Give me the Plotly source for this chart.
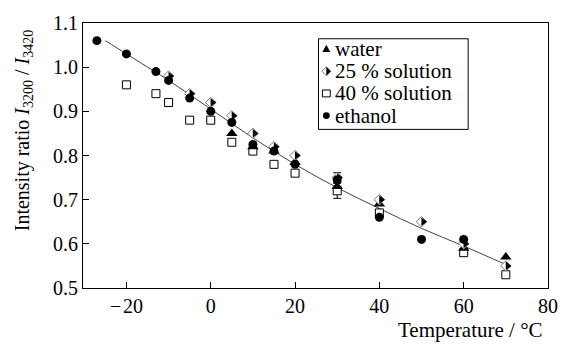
import plotly.graph_objects as go

# ---- data ----
temp_water = [5, 10, 15, 20, 30, 40, 60, 70]
ratio_water = [0.85, 0.82, 0.81, 0.785, 0.73, 0.69, 0.59, 0.57]

temp_25 = [-10, -5, 0, 5, 10, 15, 20, 30, 40, 50, 60, 70]
ratio_25 = [0.98, 0.94, 0.92, 0.89, 0.85, 0.82, 0.80, 0.75, 0.70, 0.65, 0.60, 0.55]
err_25 = [0, 0, 0, 0, 0, 0, 0, 0.011, 0, 0, 0, 0]

temp_40 = [-20, -13, -10, -5, 0, 5, 10, 15, 20, 30, 40, 60, 70]
ratio_40 = [0.96, 0.94, 0.92, 0.88, 0.88, 0.83, 0.81, 0.78, 0.76, 0.72, 0.67, 0.58, 0.53]
err_40 = [0, 0, 0, 0, 0, 0, 0, 0, 0, 0.017, 0, 0, 0]

temp_eth = [-27, -20, -13, -10, -5, 0, 5, 10, 15, 20, 30, 40, 50, 60]
ratio_eth = [1.06, 1.03, 0.99, 0.97, 0.93, 0.90, 0.875, 0.825, 0.81, 0.78, 0.745, 0.66, 0.61, 0.61]

fit_temp = [-25, -20, -10, 0, 10, 20, 30, 40, 50, 60, 70]
fit_ratio = [1.06, 1.03, 0.97, 0.905, 0.84, 0.78, 0.727, 0.68, 0.635, 0.595, 0.553]

x_ticks = [-20, 0, 20, 40, 60, 80]
x_tick_labels = ["\u2212\u200a20", "0", "20", "40", "60", "80"]
y_ticks = [0.5, 0.6, 0.7, 0.8, 0.9, 1.0, 1.1]

legend_names = ["water", "25 % solution", "40 % solution", "ethanol"]

FONT = "Times New Roman, Liberation Serif, serif"
W, H = 570, 349
X_RANGE = [-30.3, 80]
Y_RANGE = [0.5, 1.1]
L, R, T, B = 83, 15, 19, 61
plot_w = W - L - R
plot_h = H - T - B
px_per_unit = plot_w / (X_RANGE[1] - X_RANGE[0])
half_shift = 1.8 / px_per_unit  # shift black half-diamond so its flat edge sits at the centre


def pxx(x):
    return (x - L) / plot_w


def pxy(y):
    return (H - B - y) / plot_h


fig = go.Figure()

fig.add_trace(go.Scatter(
    x=fit_temp, y=fit_ratio, mode="lines", line=dict(color="#444", width=1, shape="spline"),
    hoverinfo="skip"))

fig.add_trace(go.Scatter(
    x=temp_40, y=ratio_40, mode="markers", name=legend_names[2],
    marker=dict(symbol="square", size=8, color="white", line=dict(color="black", width=1)),
    error_y=dict(type="data", array=err_40, color="black", thickness=1, width=4)))

fig.add_trace(go.Scatter(
    x=temp_water, y=ratio_water, mode="markers", name=legend_names[0],
    marker=dict(symbol="triangle-up", size=10, color="black", line=dict(width=0))))

fig.add_trace(go.Scatter(
    x=temp_25, y=ratio_25, mode="markers", name=legend_names[1],
    marker=dict(symbol="diamond", size=8, color="white", line=dict(color="#777", width=1)),
    error_y=dict(type="data", array=err_25, color="black", thickness=1, width=4)))

fig.add_trace(go.Scatter(
    x=[t + half_shift for t in temp_25], y=ratio_25, mode="markers",
    marker=dict(symbol="triangle-right", size=7.5, color="black", line=dict(width=0)),
    hoverinfo="skip"))

fig.add_trace(go.Scatter(
    x=temp_eth, y=ratio_eth, mode="markers", name=legend_names[3],
    marker=dict(symbol="circle", size=9, color="black", line=dict(width=0))))

axis_common = dict(
    showgrid=False, zeroline=False, showline=True, linecolor="black", linewidth=1,
    mirror=True, ticks="inside", ticklen=6, tickcolor="black", tickwidth=1,
    tickfont=dict(family=FONT, size=20, color="black"))

fig.update_xaxes(range=X_RANGE, tickvals=x_ticks, ticktext=x_tick_labels, **axis_common)
fig.update_yaxes(range=Y_RANGE, tickvals=y_ticks, tickformat=".1f", **axis_common)

# ---- hand-made legend box (matches the compact reference legend) ----
box = dict(x0=322, x1=474, y0=35, y1=127)
row_y = [45, 68, 90.5, 113]
mx = 330
text_x = 337
shapes = [dict(type="rect", xref="paper", yref="paper",
               x0=pxx(box["x0"]), x1=pxx(box["x1"]), y0=pxy(box["y1"]), y1=pxy(box["y0"]),
               line=dict(color="black", width=1), fillcolor="white", layer="above")]


def path(points):
    return "M " + " L ".join(f"{pxx(a):.5f},{pxy(b):.5f}" for a, b in points) + " Z"


# water triangle
y0 = row_y[0]
shapes.append(dict(type="path", xref="paper", yref="paper", layer="above",
                   path=path([(mx - 4, y0 + 3.5), (mx + 4, y0 + 3.5), (mx, y0 - 4)]),
                   fillcolor="black", line=dict(width=0)))
# 25 % half diamond
y1 = row_y[1]
shapes.append(dict(type="path", xref="paper", yref="paper", layer="above",
                   path=path([(mx, y1 - 4.5), (mx + 4.5, y1), (mx, y1 + 4.5), (mx - 4.5, y1)]),
                   fillcolor="white", line=dict(color="#777", width=1)))
shapes.append(dict(type="path", xref="paper", yref="paper", layer="above",
                   path=path([(mx, y1 - 4.5), (mx + 4.5, y1), (mx, y1 + 4.5)]),
                   fillcolor="black", line=dict(width=0)))
# 40 % square
y2 = row_y[2]
shapes.append(dict(type="rect", xref="paper", yref="paper", layer="above",
                   x0=pxx(mx - 4), x1=pxx(mx + 4), y0=pxy(y2 + 3.5), y1=pxy(y2 - 3.5),
                   fillcolor="white", line=dict(color="black", width=1)))
# ethanol circle
y3 = row_y[3]
shapes.append(dict(type="circle", xref="paper", yref="paper", layer="above",
                   x0=pxx(mx - 3.5), x1=pxx(mx + 3.5), y0=pxy(y3 + 3.5), y1=pxy(y3 - 3.5),
                   fillcolor="black", line=dict(width=0)))

annotations = [
    dict(text=name, xref="paper", yref="paper", x=pxx(text_x), y=pxy(ry),
         xanchor="left", yanchor="middle", showarrow=False,
         font=dict(family=FONT, size=21, color="black"))
    for name, ry in zip(legend_names, row_y)
]
annotations += [
    dict(text="Temperature / °C", xref="paper", yref="paper",
         x=pxx(552), y=pxy(331), xanchor="right", yanchor="middle", showarrow=False,
         font=dict(family=FONT, size=21, color="black")),
    dict(text="Intensity ratio <i>I</i><sub>3200</sub> / <i>I</i><sub>3420</sub>",
         xref="paper", yref="paper", x=pxx(22), y=pxy(128), xanchor="center", yanchor="middle",
         textangle=-90, showarrow=False,
         font=dict(family=FONT, size=20, color="black")),
]

fig.update_layout(
    width=W, height=H,
    margin=dict(l=L, r=R, t=T, b=B, pad=0),
    paper_bgcolor="white", plot_bgcolor="white",
    font=dict(family=FONT, size=20, color="black"),
    showlegend=False,
    shapes=shapes,
    annotations=annotations,
)

fig.write_html("out.html")
